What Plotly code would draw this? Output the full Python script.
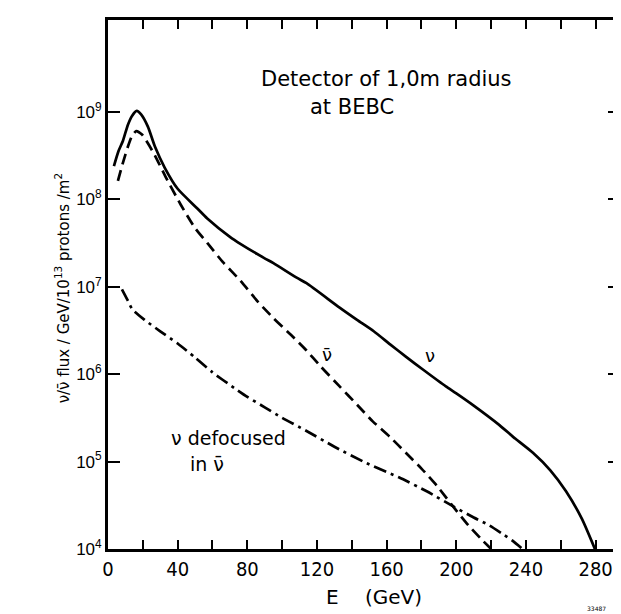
import plotly.graph_objects as go

# ---- data ----
E_nu = [3.4, 6, 8.6, 11.4, 13.7, 16.5, 19, 22.9, 27, 32.6, 40, 51, 57, 70, 76, 89.5, 95,
        108.6, 114, 133, 143, 152.6, 162, 171, 181, 194, 200, 210, 224.6, 234, 244, 254,
        263, 272, 279.6]
logF_nu = [8.38, 8.55, 8.67, 8.85, 8.95, 9.01, 8.97, 8.83, 8.6, 8.36, 8.12, 7.90, 7.78,
           7.57, 7.49, 7.33, 7.27, 7.10, 7.04, 6.76, 6.62, 6.49, 6.34, 6.20, 6.05, 5.86,
           5.78, 5.64, 5.42, 5.26, 5.10, 4.90, 4.66, 4.35, 4.0]

E_nubar = [5.7, 8.6, 11.4, 13.7, 16.2, 19.5, 22.9, 26.7, 33, 41.7, 50, 57, 66, 76, 86, 95,
           105, 114, 122, 133, 143, 152, 162, 171, 180, 189, 198, 207, 214, 220]
logF_nubar = [8.21, 8.42, 8.6, 8.72, 8.78, 8.74, 8.64, 8.51, 8.26, 7.94, 7.67, 7.50, 7.28,
              7.07, 6.83, 6.64, 6.45, 6.27, 6.09, 5.86, 5.65, 5.46, 5.28, 5.10, 4.92,
              4.72, 4.49, 4.27, 4.12, 4.0]

E_defoc = [8, 11.4, 14, 21, 30, 40, 50, 60, 72.6, 80, 90, 100, 114, 130, 148.6, 167, 183,
           198, 210, 219, 226, 232.6, 238]
logF_defoc = [6.97, 6.84, 6.74, 6.62, 6.49, 6.35, 6.19, 6.02, 5.84, 5.74, 5.62, 5.50, 5.35,
              5.17, 4.98, 4.82, 4.66, 4.49, 4.36, 4.27, 4.18, 4.09, 4.0]

x_tickvals = [0, 20, 40, 60, 80, 100, 120, 140, 160, 180, 200, 220, 240, 260, 280]
x_ticktext = ["0", " ", "40", " ", "80", " ", "120", " ", "160", " ", "200", " ", "240",
              " ", "280"]
y_exponents = [4, 5, 6, 7, 8, 9]

# ---- figure ----
FONT = "DejaVu Sans"
NARROW = "Liberation Sans Narrow, DejaVu Sans Condensed, Liberation Sans, sans-serif"
fig = go.Figure()

def pow10(v):
    return [10 ** a for a in v]

fig.add_trace(go.Scatter(x=E_nu, y=pow10(logF_nu), mode="lines",
                         line=dict(color="black", width=2.7, shape="spline", smoothing=0.6),
                         showlegend=False))
fig.add_trace(go.Scatter(x=E_nubar, y=pow10(logF_nubar), mode="lines",
                         line=dict(color="black", width=2.7, dash="11px,6px",
                                   shape="spline", smoothing=0.6),
                         showlegend=False))
fig.add_trace(go.Scatter(x=E_defoc, y=pow10(logF_defoc), mode="lines",
                         line=dict(color="black", width=2.7, dash="13px,5px,3px,5px",
                                   shape="spline", smoothing=0.6),
                         showlegend=False))

fig.update_layout(
    width=621, height=614,
    margin=dict(l=100, r=6, t=12, b=73),
    paper_bgcolor="white", plot_bgcolor="white",
    font=dict(family=FONT, color="black"),
    xaxis=dict(range=[0, 294], tickvals=x_tickvals, ticktext=x_ticktext,
               ticks="inside", ticklen=9, tickwidth=2, tickcolor="black",
               showline=True, linecolor="black", linewidth=2.8, mirror="ticks",
               showgrid=False, zeroline=False,
               tickfont=dict(size=20, family=NARROW)),
    yaxis=dict(type="log", range=[4, 10.05],
               tickvals=[10 ** e for e in y_exponents],
               ticktext=[f"10<sup>{e}</sup>" for e in y_exponents],
               ticks="inside", ticklen=12, tickwidth=2, tickcolor="black",
               showline=True, linecolor="black", linewidth=2.8, mirror="ticks",
               showgrid=False, zeroline=False,
               tickfont=dict(size=17, family="Liberation Sans")),
)

ann = [
    dict(text="Detector of 1,0m radius", x=160, y=9.38, xref="x", yref="y",
         showarrow=False, font=dict(size=21)),
    dict(text="at BEBC", x=140, y=9.05, xref="x", yref="y",
         showarrow=False, font=dict(size=21)),
    dict(text="ν̄", x=125.7, y=6.22, xref="x", yref="y", showarrow=False,
         font=dict(size=18)),
    dict(text="ν", x=185, y=6.21, xref="x", yref="y", showarrow=False,
         font=dict(size=18)),
    dict(text="ν defocused", x=35, y=5.27, xref="x", yref="y", xanchor="left",
         showarrow=False, font=dict(size=19)),
    dict(text="in ν̄", x=46, y=4.97, xref="x", yref="y", xanchor="left",
         showarrow=False, font=dict(size=19)),
    dict(text="ν/ν̄ flux / GeV/10<sup>13</sup> protons /m<sup>2</sup>",
         x=(42 - 100) / 515, y=(541 - 280) / 529, xref="paper", yref="paper",
         textangle=-90, showarrow=False, font=dict(size=15, family=FONT)),
    dict(text="E", x=(326 - 100) / 515, y=(541 - 603) / 529, xref="paper", yref="paper",
         showarrow=False, font=dict(size=20)),
    dict(text="(GeV)", x=(387 - 100) / 515, y=(541 - 603) / 529, xref="paper",
         yref="paper", showarrow=False, font=dict(size=20)),
    dict(text="33487", x=(603 - 100) / 515, y=(541 - 606) / 529, xref="paper",
         yref="paper", showarrow=False, font=dict(size=6)),
]
fig.update_layout(annotations=ann)

fig.write_html("out.html")
